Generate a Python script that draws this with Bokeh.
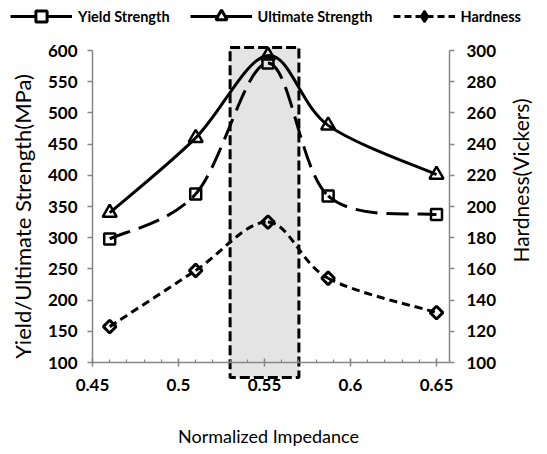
import numpy as np
from bokeh.plotting import figure
from bokeh.models import (Range1d, LinearAxis, FixedTicker, Legend, LegendItem,
                          ColumnDataSource, Label)
from bokeh.embed import file_html
from bokeh.resources import INLINE

# ---------------- data ----------------
impedance = [0.46, 0.51, 0.552, 0.587, 0.65]
yield_strength = [298, 370, 580, 367, 337]
ultimate_strength = [340, 460, 592, 480, 401]
hardness = [123, 159, 190, 154, 132]

left_ticks = [100, 150, 200, 250, 300, 350, 400, 450, 500, 550, 600]
right_ticks = [100, 120, 140, 160, 180, 200, 220, 240, 260, 280, 300]
x_ticks = [0.45, 0.5, 0.55, 0.6, 0.65]
x_tick_labels = ["0.45", "0.5", "0.55", "0.6", "0.65"]
x_minor_ticks = [0.45, 0.46, 0.47, 0.48, 0.49, 0.50, 0.51, 0.52, 0.53, 0.54, 0.55,
                 0.56, 0.57, 0.58, 0.59, 0.60, 0.61, 0.62, 0.63, 0.64, 0.65]

window_x = [0.53, 0.57]
window_y = [76, 605]

series_names = ["Yield Strength", "Ultimate Strength", "Hardness"]
x_title = "Normalized Impedance"
left_title = "Yield/Ultimate Strength(MPa)"
right_title = "Hardness(Vickers)"

# ---------------- page geometry (pixels) ----------------
W, H = 539, 446
AXIS_LEFT_PX, AXIS_RIGHT_PX = 92, 449     # plot area left / right edges
Y600_PX, Y100_PX = 50, 362                # positions of 600 and 100 on the left axis
x_min = 0.45
px_per_x = 1720.0
left_min, left_max = 100, 600
right_min, right_max = 100, 300
px_per_y = (Y100_PX - Y600_PX) / (left_max - left_min)

x_lo = x_min - AXIS_LEFT_PX / px_per_x
x_hi = x_min + (W - AXIS_LEFT_PX) / px_per_x
x_max = x_min + (AXIS_RIGHT_PX - AXIS_LEFT_PX) / px_per_x
y_hi = left_max + Y600_PX / px_per_y
y_lo = left_min - (H - Y100_PX) / px_per_y
scale = (right_max - right_min) / (left_max - left_min)
r_lo = right_min + (y_lo - left_min) * scale
r_hi = right_min + (y_hi - left_min) * scale


def px_x(px):
    return x_lo + px / px_per_x


def px_y(py):
    return y_hi - py / px_per_y


FONT = "Lato"
AX = "#868686"

p = figure(width=W, height=H, output_backend="svg", toolbar_location=None,
           x_range=Range1d(x_lo, x_hi), y_range=Range1d(y_lo, y_hi), min_border=0)
p.extra_y_ranges = {"hard": Range1d(r_lo, r_hi)}
p.grid.visible = False
p.outline_line_color = None


def smooth_source(xs, ys):
    n = len(xs)
    d = dict(x0=[], y0=[], x1=[], y1=[], cx0=[], cy0=[], cx1=[], cy1=[])
    for i in range(n - 1):
        a = max(i - 1, 0)
        b = min(i + 2, n - 1)
        d["x0"].append(xs[i]); d["y0"].append(ys[i])
        d["x1"].append(xs[i + 1]); d["y1"].append(ys[i + 1])
        d["cx0"].append(xs[i] + (xs[i + 1] - xs[a]) / 6)
        d["cy0"].append(ys[i] + (ys[i + 1] - ys[a]) / 6)
        d["cx1"].append(xs[i + 1] - (xs[b] - xs[i]) / 6)
        d["cy1"].append(ys[i + 1] - (ys[b] - ys[i]) / 6)
    return ColumnDataSource(d)


# highlighted window
p.quad(left=window_x[0], right=window_x[1], bottom=window_y[0], top=window_y[1],
       fill_color="#e4e4e4", line_color="black", line_width=3, line_dash="10 4")

# curves
p.bezier(x0="x0", y0="y0", x1="x1", y1="y1", cx0="cx0", cy0="cy0", cx1="cx1", cy1="cy1",
         source=smooth_source(impedance, yield_strength), line_color="black",
         line_width=3, line_dash="22 9")
p.bezier(x0="x0", y0="y0", x1="x1", y1="y1", cx0="cx0", cy0="cy0", cx1="cx1", cy1="cy1",
         source=smooth_source(impedance, ultimate_strength), line_color="black",
         line_width=3)
p.bezier(x0="x0", y0="y0", x1="x1", y1="y1", cx0="cx0", cy0="cy0", cx1="cx1", cy1="cy1",
         source=smooth_source(impedance, hardness), line_color="black",
         line_width=3, line_dash="8 5", y_range_name="hard")

# markers
p.scatter(impedance, yield_strength, marker="square", size=11, fill_color=None,
          line_color="black", line_width=2.5)
p.scatter(impedance, ultimate_strength, marker="triangle", size=14, fill_color=None,
          line_color="black", line_width=2.5)
p.scatter(impedance, hardness, marker="square", angle=np.pi / 4, size=9,
          fill_color=None, line_color="black", line_width=3, y_range_name="hard")

# legend proxies (hidden renderers, only used for the legend swatches)
l_y = p.line(impedance, yield_strength, line_color="black", line_width=3, visible=False)
l_u = p.line(impedance, ultimate_strength, line_color="black", line_width=3, visible=False)
l_h = p.line(impedance, hardness, line_color="black", line_width=3, line_dash="7 4",
             y_range_name="hard", visible=False)
g_y = p.scatter(impedance, yield_strength, marker="square", fill_color="white",
                line_color="black", line_width=3, visible=False)
g_u = p.scatter(impedance, ultimate_strength, marker="triangle", fill_color="white",
                line_color="black", line_width=3, visible=False)
g_h = p.scatter(impedance, hardness, marker="diamond", fill_color="black",
                line_color="black", line_width=2, y_range_name="hard", visible=False)

legend = Legend(items=[LegendItem(label=series_names[0], renderers=[l_y, g_y]),
                       LegendItem(label=series_names[1], renderers=[l_u, g_u]),
                       LegendItem(label=series_names[2], renderers=[l_h, g_h])],
                orientation="horizontal", location=(10, H - 30),
                glyph_width=62, glyph_height=28, label_standoff=6, spacing=20,
                padding=0, margin=0, border_line_color=None, background_fill_alpha=0,
                inactive_fill_alpha=0,
                label_text_font=FONT, label_text_font_style="bold",
                label_text_font_size="14.5px", label_text_color="black")
p.add_layout(legend, "center")


# axes
def style_axis(ax):
    ax.axis_line_color = AX
    ax.axis_line_width = 1.5
    ax.major_tick_line_color = AX
    ax.major_tick_line_width = 1.5
    ax.minor_tick_line_color = AX
    ax.minor_tick_line_width = 1.2
    ax.major_label_text_font = FONT
    ax.major_label_text_font_style = "bold"
    ax.major_label_text_font_size = "17px"
    ax.major_label_text_color = "black"


xa = p.xaxis[0]
style_axis(xa)
xa.ticker = FixedTicker(ticks=x_ticks, minor_ticks=x_minor_ticks)
xa.major_label_overrides = {t: s for t, s in zip(x_ticks, x_tick_labels)}
xa.fixed_location = left_min
xa.bounds = (x_min, x_max)
xa.major_tick_in = 4
xa.major_tick_out = 4
xa.minor_tick_in = 3
xa.minor_tick_out = 0
xa.major_label_standoff = 12

ya = p.yaxis[0]
style_axis(ya)
ya.ticker = FixedTicker(ticks=left_ticks, minor_ticks=[])
ya.fixed_location = x_min
ya.bounds = (left_min, left_max)
ya.major_tick_in = 0
ya.major_tick_out = 5
ya.major_label_standoff = 10

ra = LinearAxis(y_range_name="hard")
style_axis(ra)
ra.ticker = FixedTicker(ticks=right_ticks, minor_ticks=[])
ra.fixed_location = x_max
ra.bounds = (right_min, right_max)
ra.major_tick_in = 0
ra.major_tick_out = 5
ra.major_label_standoff = 12
p.add_layout(ra, "right")

# axis titles
p.add_layout(Label(x=px_x(268), y=px_y(435), text=x_title, text_align="center",
                   text_baseline="middle", text_font=FONT, text_font_size="18px",
                   text_color="black"))
p.add_layout(Label(x=px_x(22), y=px_y(216), text=left_title, angle=np.pi / 2,
                   text_align="center", text_baseline="middle", text_font=FONT,
                   text_font_size="22px", text_color="black"))
p.add_layout(Label(x=px_x(520), y=px_y(180), text=right_title, angle=np.pi / 2,
                   text_align="center", text_baseline="middle", text_font=FONT,
                   text_font_size="21px", text_color="black"))

open("out.html", "w").write(file_html(p, INLINE))
